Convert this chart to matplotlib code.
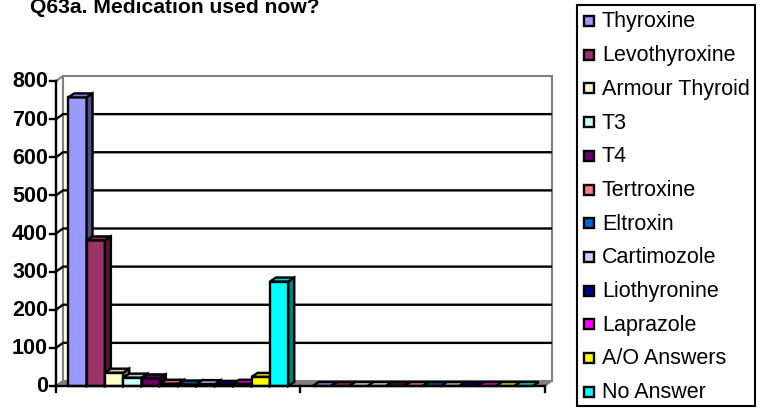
import matplotlib
matplotlib.use("Agg")
import matplotlib.pyplot as plt
from matplotlib.patches import Polygon, Rectangle
import numpy as np

plt.rcParams['font.family'] = ['Liberation Sans', 'DejaVu Sans']

title = "Q63a. Medication used now?"
categories = ["", ""]
series = ["Thyroxine", "Levothyroxine", "Armour Thyroid", "T3", "T4", "Tertroxine",
          "Eltroxin", "Cartimozole", "Liothyronine", "Laprazole", "A/O Answers", "No Answer"]
values_group1 = [757, 382, 35, 22, 20, 6, 4, 5, 3, 6, 24, 274]
values_group2 = [0, 0, 0, 0, 0, 0, 0, 0, 0, 0, 0, 0]
colors = ["#9999FF", "#993366", "#FFFFCC", "#CCFFFF", "#660066", "#FF8080",
          "#0066CC", "#CCCCFF", "#000080", "#FF00FF", "#FFFF00", "#00FFFF"]
yticks = [0, 100, 200, 300, 400, 500, 600, 700, 800]

W, H = 765, 410
fig = plt.figure(figsize=(W / 100, H / 100), dpi=100)

# axes: front plane
ax_l, ax_r, ax_b, ax_t = 56, 545, 387, 82
ax = fig.add_axes([ax_l / W, (H - ax_b) / H, (ax_r - ax_l) / W, (ax_b - ax_t) / H])
ax.set_xlim(0, len(categories))
ax.set_ylim(0, 800)
ax.axis('off')

ppx = len(categories) / (ax_r - ax_l)   # data units per pixel x
ppy = 800 / (ax_b - ax_t)               # data units per pixel y

wdx, wdy = 7 * ppx, 5 * ppy    # wall depth
bdx, bdy = 6 * ppx, 4 * ppy    # bar depth
xmax = len(categories)

# left wall
ax.add_patch(Polygon([(0, 0), (0, 800), (wdx, 800 + wdy), (wdx, wdy)], closed=True,
                     facecolor='white', edgecolor='#808080', lw=1.5, clip_on=False, zorder=1))
# back wall
ax.add_patch(Polygon([(wdx, wdy), (wdx, 800 + wdy), (xmax + wdx, 800 + wdy), (xmax + wdx, wdy)],
                     closed=True, facecolor='white', edgecolor='#808080', lw=1.5,
                     clip_on=False, zorder=1))
# gridlines
for v in yticks[1:-1]:
    ax.plot([0, wdx, xmax + wdx], [v, v + wdy, v + wdy], color='black', lw=1.7,
            clip_on=False, zorder=2, solid_capstyle='butt')
# floor
ax.add_patch(Polygon([(0, 0), (wdx, wdy), (xmax + wdx, wdy), (xmax, 0)], closed=True,
                     facecolor='#808080', edgecolor='#808080', lw=1.0, clip_on=False, zorder=2))

def shade(c, f):
    r, g, b = matplotlib.colors.to_rgb(c)
    return (r * f, g * f, b * f)

nser = len(series)
group_w = 0.9
bw = group_w / nser
for gi, vals in enumerate([values_group1, values_group2]):
    x0 = gi + 0.5 - group_w / 2
    for i, (v, c) in enumerate(zip(vals, colors)):
        xl = x0 + i * bw
        xr = xl + bw
        z = 3 + i * 0.01
        if v > 0:
            ax.add_patch(Polygon([(xl, 0), (xl, v), (xr, v), (xr, 0)], closed=True,
                                 facecolor=c, edgecolor='black', lw=1.7, clip_on=False,
                                 zorder=z, joinstyle='miter'))
            ax.add_patch(Polygon([(xr, 0), (xr, v), (xr + bdx, v + bdy), (xr + bdx, bdy)],
                                 closed=True, facecolor=shade(c, 0.5), edgecolor='black',
                                 lw=1.7, clip_on=False, zorder=z))
        ax.add_patch(Polygon([(xl, v), (xl + bdx, v + bdy), (xr + bdx, v + bdy), (xr, v)],
                             closed=True, facecolor=shade(c, 0.8), edgecolor='black',
                             lw=1.7, clip_on=False, zorder=z))

# front axes
ax.plot([0, 0], [0, 800], color='black', lw=1.7, clip_on=False, zorder=10)
ax.plot([0, xmax], [0, 0], color='black', lw=1.7, clip_on=False, zorder=10)
tk = 6
for v in yticks:
    ax.plot([-tk * ppx, 0], [v, v], color='black', lw=1.7, clip_on=False, zorder=10)
    ax.text(-(tk + 2) * ppx, v, str(v), ha='right', va='center', fontsize=15.5,
            fontweight='bold', color='black')
for xt in range(len(categories) + 1):
    ax.plot([xt, xt], [0, -tk * ppy], color='black', lw=1.7, clip_on=False, zorder=10)

# title
fig.text(30 / W, 1 - 13 / H, title, ha='left', va='baseline', fontsize=15.2,
         fontweight='bold', color='black')

# legend (manual)
lx0, lx1, ly0, ly1 = 577, 755, 6, 407
fig.patches.append(Rectangle((lx0 / W, 1 - ly1 / H), (lx1 - lx0) / W, (ly1 - ly0) / H,
                             transform=fig.transFigure, facecolor='white',
                             edgecolor='black', lw=1.5))
row0, rowstep = 22, 33.7
sq = 10
for i, (s, c) in enumerate(zip(series, colors)):
    cy = row0 + i * rowstep
    fig.patches.append(Rectangle((584 / W, 1 - (cy + sq / 2) / H), sq / W, sq / H,
                                 transform=fig.transFigure, facecolor=c,
                                 edgecolor='black', lw=1.7))
    fig.text(602 / W, 1 - cy / H, s, ha='left', va='center', fontsize=15.5, color='black')

fig.savefig("out.png", dpi=100)
